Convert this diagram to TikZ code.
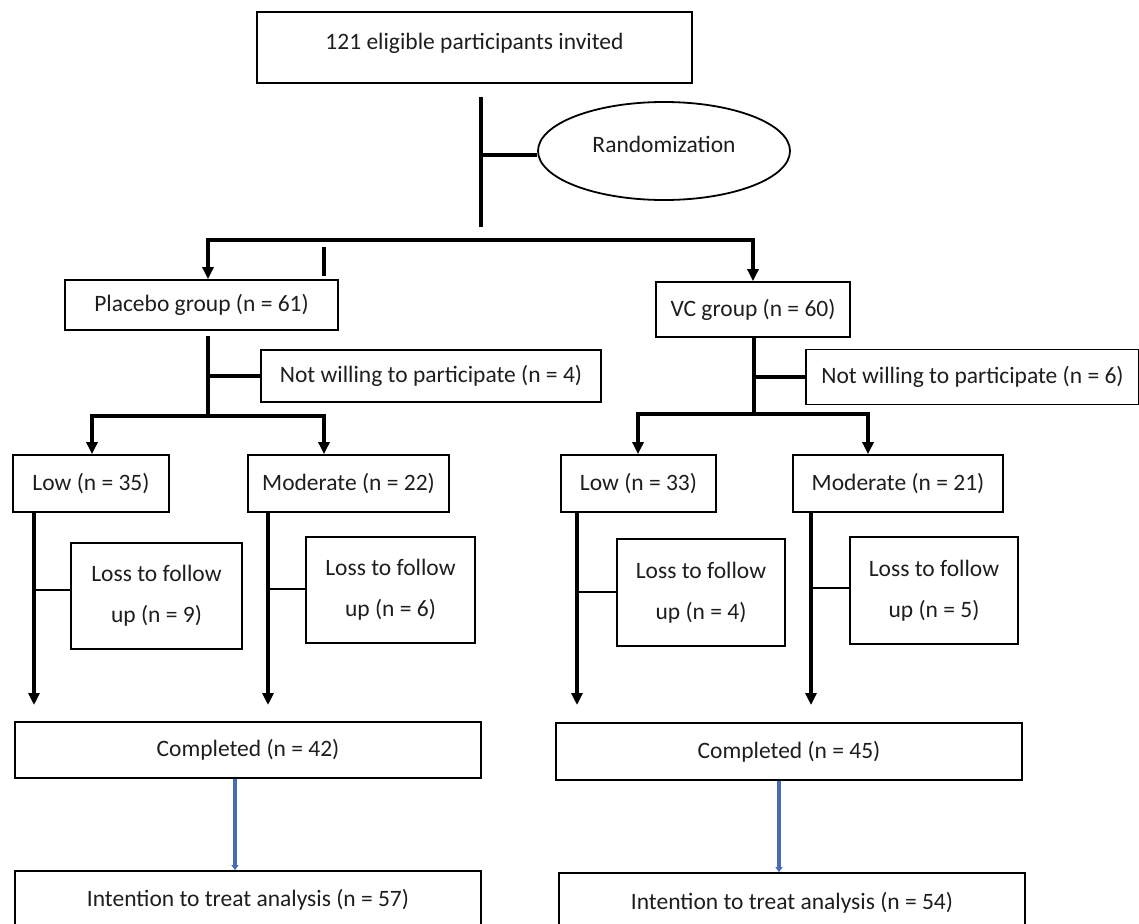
\documentclass[tikz,border=0pt]{standalone}
\usepackage{fontspec}
\setmainfont{Carlito}
\usetikzlibrary{shapes.geometric,arrows.meta}
\definecolor{bluearr}{RGB}{72,108,180}
\definecolor{txt}{RGB}{30,30,30}
\begin{document}
\begin{tikzpicture}[x=1pt,y=-1pt,
  box/.style={draw, line width=1.8pt, inner sep=0pt, align=center, text=txt,
    font=\fontsize{23.5}{41}\selectfont},
  conn/.style={line width=3.2pt},
  tip/.style={-{Triangle[length=12pt,width=11pt]}},
  tips/.style={{Triangle[length=12pt,width=11pt]}-{Triangle[length=12pt,width=11pt]}},
  blu/.style={line width=4.5pt, draw=bluearr, -{Triangle[length=5pt,width=7pt]}}]
\clip (0,0) rectangle (1139,923);
\fill[white] (0,0) rectangle (1139,923);

% nodes
\node[box, minimum width=435pt, minimum height=71pt, text depth=12pt] (top) at (474.5,47.5) {121 eligible participants invited};
\node[box, ellipse, minimum width=252pt, minimum height=98pt, text depth=14pt] (rand) at (664,151) {Randomization};
\node[box, minimum width=273pt, minimum height=50pt] (pla) at (201.5,305) {Placebo group (n = 61)};
\node[box, minimum width=194pt, minimum height=55pt] (vc) at (753,309.5) {VC group (n = 60)};
\node[box, minimum width=340pt, minimum height=52pt] (nwp) at (431,376) {Not willing to participate (n = 4)};
\node[box, minimum width=333pt, minimum height=55pt] (nwv) at (972.5,377) {Not willing to participate (n = 6)};
\node[box, minimum width=156pt, minimum height=57pt] (lowp) at (91,483.5) {Low (n = 35)};
\node[box, minimum width=201pt, minimum height=57pt] (modp) at (348.5,483.5) {Moderate (n = 22)};
\node[box, minimum width=155pt, minimum height=57pt] (lowv) at (638.5,483.5) {Low (n = 33)};
\node[box, minimum width=210pt, minimum height=57pt] (modv) at (898,483.5) {Moderate (n = 21)};
\node[box, minimum width=171pt, minimum height=106pt] (lossp1) at (156.5,596) {Loss to follow\\up (n = 9)};
\node[box, minimum width=169pt, minimum height=106pt] (lossp2) at (390.5,590) {Loss to follow\\up (n = 6)};
\node[box, minimum width=168pt, minimum height=107pt] (lossv1) at (701,592.5) {Loss to follow\\up (n = 4)};
\node[box, minimum width=168pt, minimum height=107pt] (lossv2) at (934,590.5) {Loss to follow\\up (n = 5)};
\node[box, minimum width=466pt, minimum height=56pt] (compp) at (248,750) {Completed (n = 42)};
\node[box, minimum width=466pt, minimum height=57pt] (compv) at (789,751.5) {Completed (n = 45)};
\node[box, minimum width=466pt, minimum height=58pt] (ittp) at (248,900) {Intention to treat analysis (n = 57)};
\node[box, minimum width=466pt, minimum height=60pt] (ittv) at (792,903) {Intention to treat analysis (n = 54)};

% coordinates
\coordinate (v1t) at (481,97);
\coordinate (v1b) at (481,227);
\coordinate (rj) at (481,155);
\coordinate (bl) at (208,240);
\coordinate (br) at (753,240);
\coordinate (s1) at (324,247);
\coordinate (s2) at (324,276);
\coordinate (pj0) at (208,336);
\coordinate (pj) at (208,416);
\coordinate (pl) at (92,416);
\coordinate (pr) at (324,416);
\coordinate (vj) at (754,414);
\coordinate (vl) at (638,414);
\coordinate (vr) at (868,414);
\coordinate (a1) at (34,705);
\coordinate (a2) at (268,705);
\coordinate (a3) at (577,705);
\coordinate (a4) at (811,705);
\coordinate (b1) at (34,590);
\coordinate (b2) at (268,589);
\coordinate (b3) at (577,592);
\coordinate (b4) at (811,588);
\coordinate (q1) at (235,800);
\coordinate (q2) at (779,800);

% top part
\draw[conn] (v1t) -- (v1b);
\draw[conn] (rj) -- (rj -| rand.west);
\draw[conn, tips] (bl |- pla.north) -- (bl) -- (br) -- (br |- vc.north);
\draw[conn] (s1) -- (s2);

% placebo arm
\draw[conn] (pj0) -- (pj);
\draw[conn] (nwp.west -| pj) -- (nwp.west);
\draw[conn, tips] (pl |- lowp.north) -- (pl) -- (pr) -- (pr |- modp.north);

% VC arm
\draw[conn] (vc.south -| vj) -- (vj);
\draw[conn] (nwv.west -| vj) -- (nwv.west);
\draw[conn, tips] (vl |- lowv.north) -- (vl) -- (vr) -- (vr |- modv.north);

% low / moderate lines
\draw[conn, tip] (a1 |- lowp.south) -- (a1);
\draw[conn, tip] (a2 |- modp.south) -- (a2);
\draw[conn, tip] (a3 |- lowv.south) -- (a3);
\draw[conn, tip] (a4 |- modv.south) -- (a4);
\draw[line width=2.4pt] (b1) -- (b1 -| lossp1.west);
\draw[line width=2.4pt] (b2) -- (b2 -| lossp2.west);
\draw[line width=2.4pt] (b3) -- (b3 -| lossv1.west);
\draw[line width=2.4pt] (b4) -- (b4 -| lossv2.west);

% blue arrows
\draw[blu] (compp.south -| q1) -- (ittp.north -| q1);
\draw[blu] (compv.south -| q2) -- (ittv.north -| q2);
\end{tikzpicture}
\end{document}
